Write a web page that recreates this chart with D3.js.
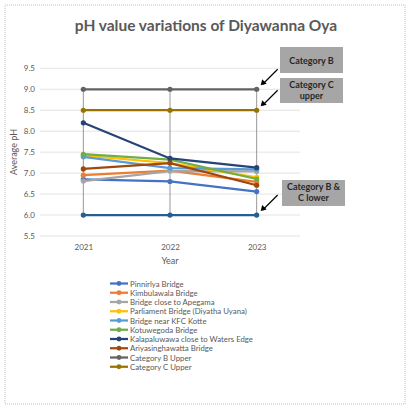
<!DOCTYPE html>
<html lang="en">
<head>
  <meta charset="UTF-8"/>
  <title>pH value variations of Diyawanna Oya</title>
  <script src="https://d3js.org/d3.v7.min.js"></script>
  <style>
    body { margin: 0; background: #fff; }
    text { font-family: Lato, "Open Sans", sans-serif; }
  </style>
</head>
<body>
<script>
  var w = 411;
  var h = 408;

  var years = ["2021", "2022", "2023"];
  var yTicks = [5.5, 6.0, 6.5, 7.0, 7.5, 8.0, 8.5, 9.0, 9.5];

  // series names + values (legend order)
  var names = [
    "Pinnirlya Bridge",
    "Kimbulawala Bridge",
    "Bridge close to Apegama",
    "Parliament Bridge (Diyatha Uyana)",
    "Bridge near KFC Kotte",
    "Kotuwegoda Bridge",
    "Kalapaluwawa close to Waters Edge",
    "Ariyasinghawatta Bridge",
    "Category B Upper",
    "Category C Upper"
  ];
  var pinnirlya     = [6.85, 6.80, 6.56];
  var kimbulawala   = [6.95, 7.06, 6.79];
  var apegama       = [6.81, 7.05, 7.04];
  var parliament    = [7.42, 7.24, 6.90];
  var kfcKotte      = [7.39, 7.12, 7.09];
  var kotuwegoda    = [7.45, 7.32, 6.86];
  var kalapaluwawa  = [8.20, 7.35, 7.13];
  var ariyasingha   = [7.10, 7.24, 6.71];
  var catBUpper     = [9.0, 9.0, 9.0];
  var catCUpper     = [8.5, 8.5, 8.5];
  var catLower      = [6.0, 6.0, 6.0]; // legend entry removed in original

  var colors = ["#4472c4", "#ed7d31", "#a5a5a5", "#ffc000", "#5b9bd5",
                "#70ad47", "#264478", "#9e480e", "#636363", "#997300", "#255e91"];

  var series = [pinnirlya, kimbulawala, apegama, parliament, kfcKotte,
                kotuwegoda, kalapaluwawa, ariyasingha, catBUpper, catCUpper, catLower];

  var callouts = [
    {lines: ["Category B"], target: 9.0},
    {lines: ["Category C", "upper"], target: 8.5},
    {lines: ["Category B &", "C lower"], target: 6.0}
  ];

  var svg = d3.select("body").append("svg")
    .attr("width", w)
    .attr("height", h);

  svg.append("rect")
    .attr("x", 5).attr("y", 5)
    .attr("width", 400).attr("height", 399)
    .attr("fill", "white")
    .attr("stroke", "#bfbfbf")
    .attr("stroke-dasharray", "1,1");

  var xScale = d3.scalePoint()
    .domain(years)
    .range([40, 300])
    .padding(0.5);

  var yScale = d3.scaleLinear()
    .domain([5.5, 9.5])
    .range([236, 68.3]);

  // title
  svg.append("text")
    .attr("x", 206).attr("y", 31)
    .attr("text-anchor", "middle")
    .attr("font-size", "15.5px")
    .attr("font-weight", "bold")
    .attr("fill", "#595959")
    .text("pH value variations of Diyawanna Oya");

  // gridlines
  svg.append("g").selectAll("line")
    .data(yTicks)
    .enter().append("line")
    .attr("x1", 40).attr("x2", 300)
    .attr("y1", function(d) { return yScale(d); })
    .attr("y2", function(d) { return yScale(d); })
    .attr("stroke", "#d9d9d9")
    .attr("stroke-width", 0.75);

  var yAxis = d3.axisLeft(yScale)
    .tickValues(yTicks)
    .tickFormat(d3.format(".1f"))
    .tickSize(0)
    .tickPadding(5);

  var gy = svg.append("g")
    .attr("transform", "translate(40,0)")
    .call(yAxis);
  gy.select(".domain").remove();
  gy.selectAll("text").attr("fill", "#595959").attr("font-size", "8px").attr("font-family", "Lato, sans-serif");

  var xAxis = d3.axisBottom(xScale).tickSize(0).tickPadding(8);
  var gx = svg.append("g")
    .attr("transform", "translate(0,236)")
    .call(xAxis);
  gx.select(".domain").remove();
  gx.selectAll("text").attr("fill", "#595959").attr("font-size", "8px").attr("font-family", "Lato, sans-serif");

  // high-low lines
  svg.append("g").selectAll("line")
    .data(years)
    .enter().append("line")
    .attr("x1", function(d) { return xScale(d); })
    .attr("x2", function(d) { return xScale(d); })
    .attr("y1", yScale(9.0))
    .attr("y2", yScale(6.0))
    .attr("stroke", "#8c8c8c")
    .attr("stroke-width", 0.9);

  // axis titles
  svg.append("text")
    .attr("x", 170).attr("y", 264)
    .attr("text-anchor", "middle")
    .attr("font-size", "9px")
    .attr("fill", "#595959")
    .text("Year");

  svg.append("text")
    .attr("transform", "rotate(-90)")
    .attr("x", -152).attr("y", 17)
    .attr("text-anchor", "middle")
    .attr("font-size", "9px")
    .attr("fill", "#595959")
    .text("Average pH");

  // lines, drawn from last to first so the legend-first series sit on top like Excel
  var line = d3.line()
    .x(function(d, i) { return xScale(years[i]); })
    .y(function(d) { return yScale(d); });

  var order = [10, 9, 8, 0, 1, 2, 3, 4, 5, 6, 7];
  order.forEach(function(k) {
    var g = svg.append("g");
    g.append("path")
      .datum(series[k])
      .attr("d", line)
      .attr("fill", "none")
      .attr("stroke", colors[k])
      .attr("stroke-width", 2.25);
    g.selectAll("circle")
      .data(series[k])
      .enter().append("circle")
      .attr("cx", function(d, i) { return xScale(years[i]); })
      .attr("cy", function(d) { return yScale(d); })
      .attr("r", 2.6)
      .attr("fill", colors[k]);
  });

  // callouts
  var boxes = [{x: 280, y: 47, hgt: 26}, {x: 280, y: 78, hgt: 25}, {x: 282, y: 180, hgt: 26}];
  callouts.forEach(function(c, i) {
    var b = boxes[i];
    svg.append("rect")
      .attr("x", b.x).attr("y", b.y)
      .attr("width", 63).attr("height", b.hgt)
      .attr("fill", "#a6a6a6");
    c.lines.forEach(function(t, j) {
      svg.append("text")
        .attr("x", b.x + 31.5)
        .attr("y", b.y + (c.lines.length == 1 ? 16.5 : 10 + j * 10.5))
        .attr("text-anchor", "middle")
        .attr("font-size", "9px")
        .attr("font-weight", "bold")
        .attr("fill", "#262626")
        .text(t);
    });
    var tx = xScale("2023") + 4;
    var ty = yScale(c.target) - 4;
    svg.append("line")
      .attr("x1", tx + 17).attr("y1", ty - 16)
      .attr("x2", tx + 2).attr("y2", ty - 1)
      .attr("stroke", "black")
      .attr("stroke-width", 1.2);
    svg.append("path")
      .attr("d", "M" + tx + "," + ty + " l6,-1.5 l-4.5,-4.5 z")
      .attr("fill", "black");
  });

  // legend
  var legend = svg.append("g");
  names.forEach(function(n, i) {
    var y = 283.5 + i * 9.25;
    legend.append("line")
      .attr("x1", 110).attr("x2", 128)
      .attr("y1", y).attr("y2", y)
      .attr("stroke", colors[i])
      .attr("stroke-width", 2.25);
    legend.append("circle")
      .attr("cx", 119).attr("cy", y).attr("r", 2.4)
      .attr("fill", colors[i]);
    legend.append("text")
      .attr("x", 130).attr("y", y + 3)
      .attr("font-size", "7.8px")
      .attr("fill", "#595959")
      .text(n);
  });
</script>
</body>
</html>
